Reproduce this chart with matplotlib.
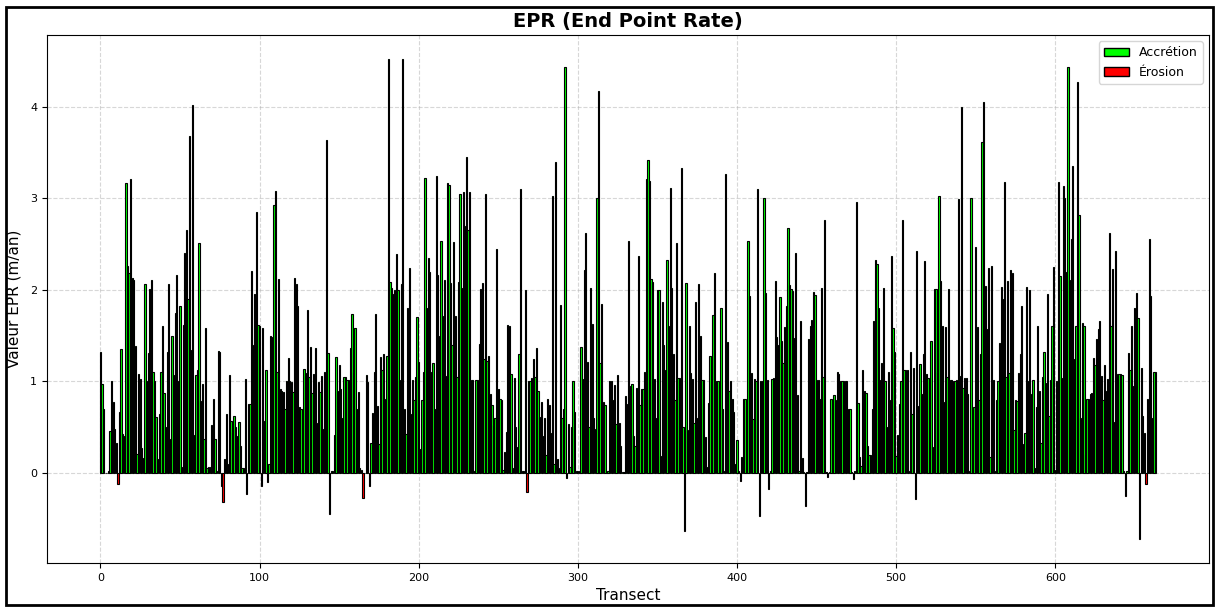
import matplotlib
matplotlib.use('Agg')
import matplotlib.pyplot as plt
import numpy as np
from matplotlib.patches import Patch, Rectangle

# EPR values, transect 0..663, in chunks of ~69
epr_0 = [1.32, 0.97, 0.70, 0.0, 0.0, 0.02, 0.46, 1.00, 0.78, 0.48, 0.33, -0.12, 0.67, 1.35, 0.43, 0.40,
         3.17, 2.26, 2.18, 3.21, 2.13, 2.11, 1.39, 0.21, 1.08, 1.03, 0.27, 0.16, 2.06, 1.00, 1.31, 2.01,
         2.11, 1.10, 1.00, 0.61, 0.15, 0.64, 1.10, 1.60, 0.87, 0.50, 1.32, 2.06, 0.37, 1.50, 1.07, 1.75,
         2.16, 1.00, 1.82, 0.07, 1.62, 2.40, 2.65, 1.90, 3.68, 1.34, 4.02, 0.42, 1.07, 1.13, 2.51, 0.79]
epr_1 = [0.97, 0.37, 1.58, 0.05, 0.07, 0.07, 0.52, 0.81, 0.37, 0.02, 1.33, 1.32, -0.14, -0.32, 0.15, 0.64,
         0.10, 1.07, 0.57, 0.45, 0.62, 0.50, 0.40, 0.56, 0.30, 0.05, 0.05, 1.03, -0.23, 0.75, 0.75, 2.21,
         1.40, 1.96, 2.85, 1.62, 1.61, -0.14, 1.58, 0.57, 1.13, -0.10, 0.10, 1.50, 1.49, 2.93, 3.08, 1.10,
         2.12, 0.92, 0.90, 0.88, 0.70, 1.00, 1.26, 1.00, 0.99, 0.88, 2.13, 2.06, 1.82, 0.72, 0.70, 0.06,
         1.14, 1.09, 1.78, 1.05, 1.38]
epr_2 = [0.87, 1.08, 1.37, 0.55, 0.99, 0.88, 1.06, 0.48, 1.10, 3.64, 1.31, -0.45, 0.02, 0.02, 0.41, 1.27,
         0.90, 1.18, 0.92, 0.60, 1.05, 1.05, 1.02, 1.02, 1.37, 1.74, 1.10, 1.58, 0.70, 0.88, 0.05, 0.03,
         -0.27, 0.0, 1.07, 0.99, -0.14, 0.33, 0.66, 1.10, 1.74, 0.73, 0.32, 1.27, 1.13, 1.30, 0.81, 1.28,
         4.52, 2.09, 2.02, 1.95, 2.00, 2.39, 2.00, 1.02, 2.06, 4.52, 0.70, 0.43, 1.80, 2.24, 0.64, 1.02,
         0.80, 1.05, 1.70, 1.21, 0.26]
epr_3 = [0.80, 1.10, 3.22, 1.80, 2.35, 2.20, 1.10, 1.20, 0.70, 3.24, 2.16, 1.50, 2.53, 1.71, 2.11, 1.06,
         3.17, 3.15, 2.08, 1.40, 2.52, 1.71, 1.05, 2.09, 3.05, 2.02, 3.07, 2.70, 3.45, 2.65, 3.07, 1.02,
         1.02, 0.02, 1.02, 1.02, 1.41, 2.01, 2.08, 1.25, 3.05, 1.22, 1.28, 0.86, 0.74, 0.52, 0.60, 2.45,
         0.92, 0.81, 0.80, 0.03, 0.23, 0.45, 1.62, 1.61, 1.08, 0.06, 1.04, 0.50, 0.28, 1.30, 3.10, 0.02,
         0.02, 2.00, -0.21, 1.00, 1.00]
epr_4 = [1.04, 1.25, 1.05, 1.37, 0.90, 0.61, 0.78, 0.40, 0.60, 0.20, 0.81, 0.74, 0.44, 3.02, 0.10, 3.40,
         0.15, 0.05, 1.84, 0.60, 0.70, 4.43, -0.05, 0.53, 0.07, 0.50, 1.00, 0.67, 0.02, 0.02, 0.02, 1.38,
         1.03, 2.22, 2.62, 1.21, 0.50, 2.02, 1.63, 0.60, 0.48, 3.00, 4.17, 1.20, 1.85, 0.78, 0.74, 0.01,
         0.02, 1.00, 1.00, 0.80, 0.96, 0.53, 1.07, 0.55, 0.30, 0.01, 0.01, 0.84, 0.75, 2.53, 0.95, 0.97,
         0.40, 0.30, 0.93, 2.37, 0.74]
epr_5 = [0.92, 0.92, 1.10, 3.21, 3.42, 3.19, 2.12, 2.09, 1.03, 0.60, 2.00, 2.00, 0.19, 1.87, 1.40, 1.12,
         2.33, 1.60, 3.11, 2.02, 1.30, 0.80, 2.51, 1.04, 1.04, 3.33, 0.50, -0.63, 2.07, 0.47, 1.61, 1.09,
         1.03, 0.55, 1.87, 0.60, 2.06, 1.50, 1.02, 1.02, 0.39, 0.07, 0.77, 1.28, 1.00, 1.73, 2.18, 1.00,
         1.00, 0.02, 1.80, 0.70, 0.02, 3.26, 1.43, 0.90, 1.00, 0.81, 0.67, 0.10, 0.36, 0.02, -0.09, 0.17,
         0.81, 0.81, 0.02, 2.53, 1.93, 1.09]
epr_6 = [0.59, 1.03, 1.00, 3.10, -0.47, 1.00, 1.00, 3.00, 1.97, 1.02, -0.17, 0.02, 1.03, 1.04, 2.10, 1.48,
         1.40, 1.92, 1.44, 1.20, 1.59, 1.82, 2.68, 2.05, 2.01, 1.99, 1.47, 2.40, 0.85, 0.02, 1.66, 0.16,
         0.01, -0.36, 0.01, 1.46, 1.61, 1.67, 1.98, 1.94, 1.02, 1.02, 0.81, 2.02, 1.05, 2.76, 0.01, -0.04,
         0.01, 0.81, 0.71, 0.85, 0.80, 1.10, 1.08, 1.00, 1.00, 1.00, 1.00, 1.00, 0.70, 0.70, 0.01, -0.07,
         0.02, 2.96, 0.77, 0.17, 0.08]
epr_7 = [1.12, 0.90, 0.87, 0.30, 0.20, 0.20, 0.70, 1.66, 2.33, 2.28, 1.80, 1.02, 1.20, 2.02, 1.00, 0.50,
         1.10, 0.80, 2.37, 1.58, 1.32, 0.19, 0.41, 0.75, 1.00, 2.76, 1.12, 1.12, 1.12, 0.02, 1.32, 0.65,
         1.15, -0.28, 2.42, 0.73, 1.19, 0.86, 1.30, 2.32, 1.08, 1.04, 0.02, 1.44, 0.28, 2.01, 2.01, 1.10,
         3.03, 2.10, 1.60, 0.78, 1.59, 1.05, 2.01, 1.02, 1.02, 1.00, 1.00, 1.02, 2.99, 1.06, 4.00, 0.93,
         1.04, 1.04, 0.86, 0.02, 3.00]
epr_8 = [0.50, 0.72, 2.47, 1.59, 0.80, 1.30, 3.61, 4.05, 2.04, 1.57, 2.24, 0.18, 2.26, 1.02, 0.02, 0.80,
         1.00, 1.42, 2.03, 1.90, 3.18, 1.05, 2.10, 1.09, 2.22, 2.18, 0.47, 0.80, 0.79, 1.09, 1.30, 1.82,
         0.32, 0.44, 2.03, 1.00, 2.00, 0.86, 1.02, 0.06, 0.72, 1.60, 0.90, 0.33, 1.05, 1.32, 0.98, 1.96,
         0.62, 1.02, 1.60, 2.25, 0.03, 1.00, 3.18, 2.15, 1.04, 3.13, 3.00, 2.20, 4.43, 2.11, 2.55, 3.35,
         1.25, 1.60, 4.27, 2.82, 0.60]
epr_9 = [1.64, 1.61, 0.21, 0.81, 0.81, 0.86, 0.87, 1.26, 1.18, 1.46, 1.57, 1.66, 1.06, 0.80, 1.18, 0.90,
         1.03, 2.62, 1.60, 2.23, 0.56, 2.42, 1.08, 1.08, 1.08, 1.07, 0.02, -0.25, 0.02, 1.31, 1.12, 1.60,
         0.95, 1.80, 1.97, 1.69, -0.72, 1.15, 0.62, 0.44, -0.12, 0.81, 2.56, 1.93, 0.60, 1.10, 1.10]

epr = np.array(epr_0 + epr_1 + epr_2 + epr_3 + epr_4 + epr_5 + epr_6 + epr_7 + epr_8 + epr_9)
transects = np.arange(len(epr))
colors = ['lime' if v >= 0 else 'red' for v in epr]

fig = plt.figure(figsize=(12.17, 6.07), dpi=100)
ax = fig.add_axes([0.0386, 0.0725, 0.9548, 0.8698])

ax.bar(transects, epr, color=colors, edgecolor='black', linewidth=0.8)
ax.grid(True, linestyle='--', alpha=0.5)
ax.set_axisbelow(True)

ax.set_title('EPR (End Point Rate)', fontsize=14, fontweight='bold')
ax.set_xlabel('Transect', fontsize=11)
ax.set_ylabel('Valeur EPR (m/an)', fontsize=11, labelpad=6)
ax.tick_params(labelsize=8)

handles = [Patch(facecolor='lime', edgecolor='black', label='Accrétion'),
           Patch(facecolor='red', edgecolor='black', label='Érosion')]
ax.legend(handles=handles, loc='upper right', fontsize=9)

# black frame around the whole picture
fig.patches.append(Rectangle((0.005, 0.003), 0.992, 0.986, transform=fig.transFigure,
                             fill=False, edgecolor='black', linewidth=2))

fig.savefig('out.png', dpi=100)
